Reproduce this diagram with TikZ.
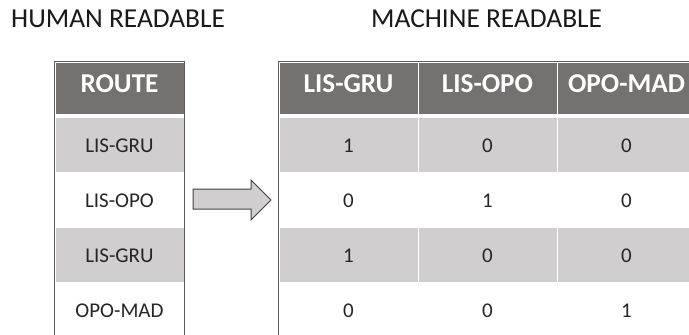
\documentclass[tikz,border=0pt]{standalone}
\usepackage{fontspec}
\setmainfont{Carlito}
\definecolor{hdr}{HTML}{767171}
\definecolor{rowg}{HTML}{D0CECE}
\definecolor{bord}{HTML}{595959}
\definecolor{txt}{HTML}{262626}
\definecolor{arrowline}{HTML}{404040}
\begin{document}
\begin{tikzpicture}[x=1pt,y=-1pt,
 hdrcell/.style={fill=hdr, draw=white, line width=0.8pt, text=white,
   font=\fontsize{27.2}{30}\selectfont\bfseries, minimum height=52pt,
   text height=17.5pt, text depth=8pt, inner sep=0pt},
 bodycell/.style={draw=white, line width=0.8pt, text=txt,
   font=\fontsize{21}{24}\selectfont, minimum height=55pt,
   text height=16pt, text depth=0pt, inner sep=0pt},
 grayrow/.style={bodycell, fill=rowg},
 whiterow/.style={bodycell, fill=white},
 leftcol/.style={minimum width=129pt},
 rightcol/.style={minimum width=139pt},
 title/.style={font=\fontsize{27.4}{30}\selectfont, text=black!90, anchor=base west, inner sep=0pt},
 border/.style={draw=bord, line width=1pt},
 blockarrow/.style={fill=rowg, draw=arrowline, line width=1pt, line join=miter}
]
\useasboundingbox (0,0) rectangle (689,335);
\clip (0,0) rectangle (689,335);
\coordinate (bot) at (0,340);

% titles
\node[title] (t1) at (11,27.3) {HUMAN READABLE};
\node[title] (t2) at (371,27.3) {MACHINE READABLE};

% left table
\node[hdrcell, leftcol] (L0) at (119.5,88) {ROUTE};
\node[grayrow, leftcol] (L1) at (119.5,144.5) {LIS-GRU};
\node[whiterow, leftcol] (L2) at (119.5,199.5) {LIS-OPO};
\node[grayrow, leftcol] (L3) at (119.5,254.5) {LIS-GRU};
\node[whiterow, leftcol] (L4) at (119.5,309.5) {OPO-MAD};

% right table headers
\node[hdrcell, rightcol] (A0) at (348.5,88) {LIS-GRU};
\node[hdrcell, rightcol] (B0) at (487.5,88) {LIS-OPO};
\node[hdrcell, rightcol] (C0) at (626.5,88) {OPO-MAD};

% right table body
\node[grayrow, rightcol] (A1) at (348.5,144.5) {1};
\node[grayrow, rightcol] (B1) at (487.5,144.5) {0};
\node[grayrow, rightcol] (C1) at (626.5,144.5) {0};
\node[whiterow, rightcol] (A2) at (348.5,199.5) {0};
\node[whiterow, rightcol] (B2) at (487.5,199.5) {1};
\node[whiterow, rightcol] (C2) at (626.5,199.5) {0};
\node[grayrow, rightcol] (A3) at (348.5,254.5) {1};
\node[grayrow, rightcol] (B3) at (487.5,254.5) {0};
\node[grayrow, rightcol] (C3) at (626.5,254.5) {0};
\node[whiterow, rightcol] (A4) at (348.5,309.5) {0};
\node[whiterow, rightcol] (B4) at (487.5,309.5) {0};
\node[whiterow, rightcol] (C4) at (626.5,309.5) {1};

% borders
\draw[border] (L0.north west |- bot) -- (L0.north west) -- (L0.north east) -- (L0.north east |- bot);
\draw[border] (A0.north west |- bot) -- (A0.north west) -- (C0.north east) -- (C0.north east |- bot);

% block arrow
\draw[blockarrow] (193,189) -- (251,189) -- (251,180) -- (271,200) -- (251,220) -- (251,209) -- (193,209) -- cycle;
\end{tikzpicture}
\end{document}
